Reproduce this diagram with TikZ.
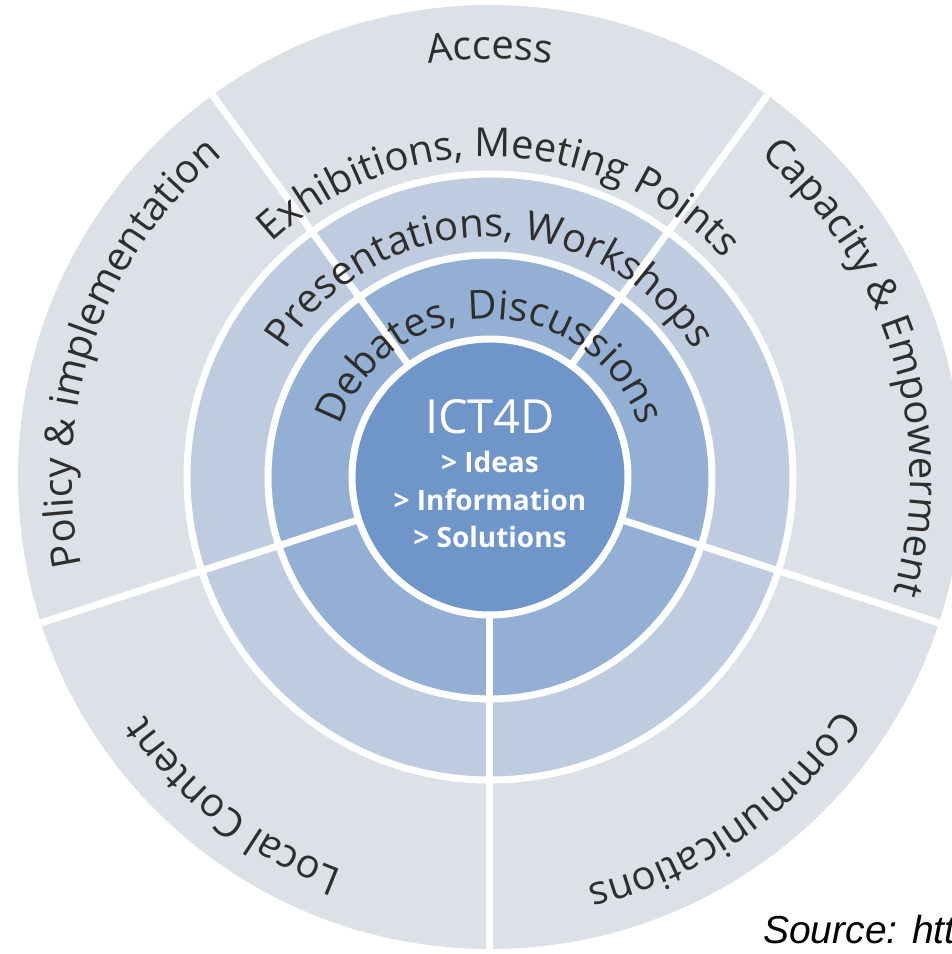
\documentclass[tikz,border=0pt]{standalone}
\usepackage{fontspec}
\setmainfont{Open Sans}
\newfontfamily\srcfont{Liberation Sans}
\usetikzlibrary{decorations.text}
\definecolor{ink}{HTML}{2E2E2E}
\definecolor{ringout}{HTML}{DCE0E7}
\definecolor{ringmid}{HTML}{BFCCDF}
\definecolor{ringin}{HTML}{94AFD4}
\definecolor{core}{HTML}{7095C8}
\newcommand\lblfont{\fontsize{40}{42}\selectfont}

\begin{document}
\begin{tikzpicture}[
  x=1pt,y=1pt,
  sep/.style={white,line width=7pt},
  arclab/.style={decorate,decoration={text along path,text align=center,text color=ink}},
  item/.style={text=white,font=\fontsize{28}{30}\selectfont\bfseries,inner sep=0pt,anchor=base}
]
\useasboundingbox (-490,-477) rectangle (462,477);
% rings
\fill[ringout] (0,0) circle (472);
\fill[ringmid] (0,0) circle (303);
\fill[ringin] (0,0) circle (222);
\foreach \r in {303,222} \draw[sep] (0,0) circle (\r);
\foreach \a in {54,126,198,270,342} \draw[sep] (\a:138) -- (\a:472);
\node[circle,draw=white,line width=7pt,fill=core,minimum size=276pt,inner sep=0pt] (hub) at (0,0) {};
% outer ring labels
\path[arclab,decoration={text={|\lblfont|Access}}]
  (170:418) arc[start angle=170,end angle=10,radius=418];
\path[arclab,decoration={text={|\lblfont|Capacity {\&} Empowerment}}]
  (97:420) arc[start angle=97,end angle=-63,radius=420];
\path[arclab,decoration={text={|\lblfont|Communications}}]
  (385:420) arc[start angle=385,end angle=225,radius=420];
\path[arclab,decoration={text={|\lblfont|Local Content}}]
  (312:420) arc[start angle=312,end angle=152,radius=420];
\path[arclab,decoration={text={|\lblfont|Policy {\&} implementation}}]
  (241:418) arc[start angle=241,end angle=81,radius=418];
% inner ring labels
\path[arclab,decoration={text={|\lblfont|Exhibitions, Meeting Points}}]
  (168:320) arc[start angle=168,end angle=8,radius=320];
\path[arclab,decoration={text={|\lblfont|Presentations, Workshops}}]
  (175:240) arc[start angle=175,end angle=5,radius=240];
\path[arclab,decoration={text={|\lblfont|Debates, Discussions}}]
  (178:158) arc[start angle=178,end angle=2,radius=158];
% centre
\node[text=white,font=\fontsize{47}{50}\selectfont,inner sep=0pt,anchor=base] (title) at (0,44) {ICT4D};
\node[item] (ideas) at (0,5) {> Ideas};
\node[item] (info) at (0,-33) {> Information};
\node[item] (sols) at (0,-70) {> Solutions};
\node[font=\srcfont\itshape\fontsize{39}{41}\selectfont,inner sep=0pt,anchor=base west] (src) at (273,-466) {Source: http};
\end{tikzpicture}
\end{document}
